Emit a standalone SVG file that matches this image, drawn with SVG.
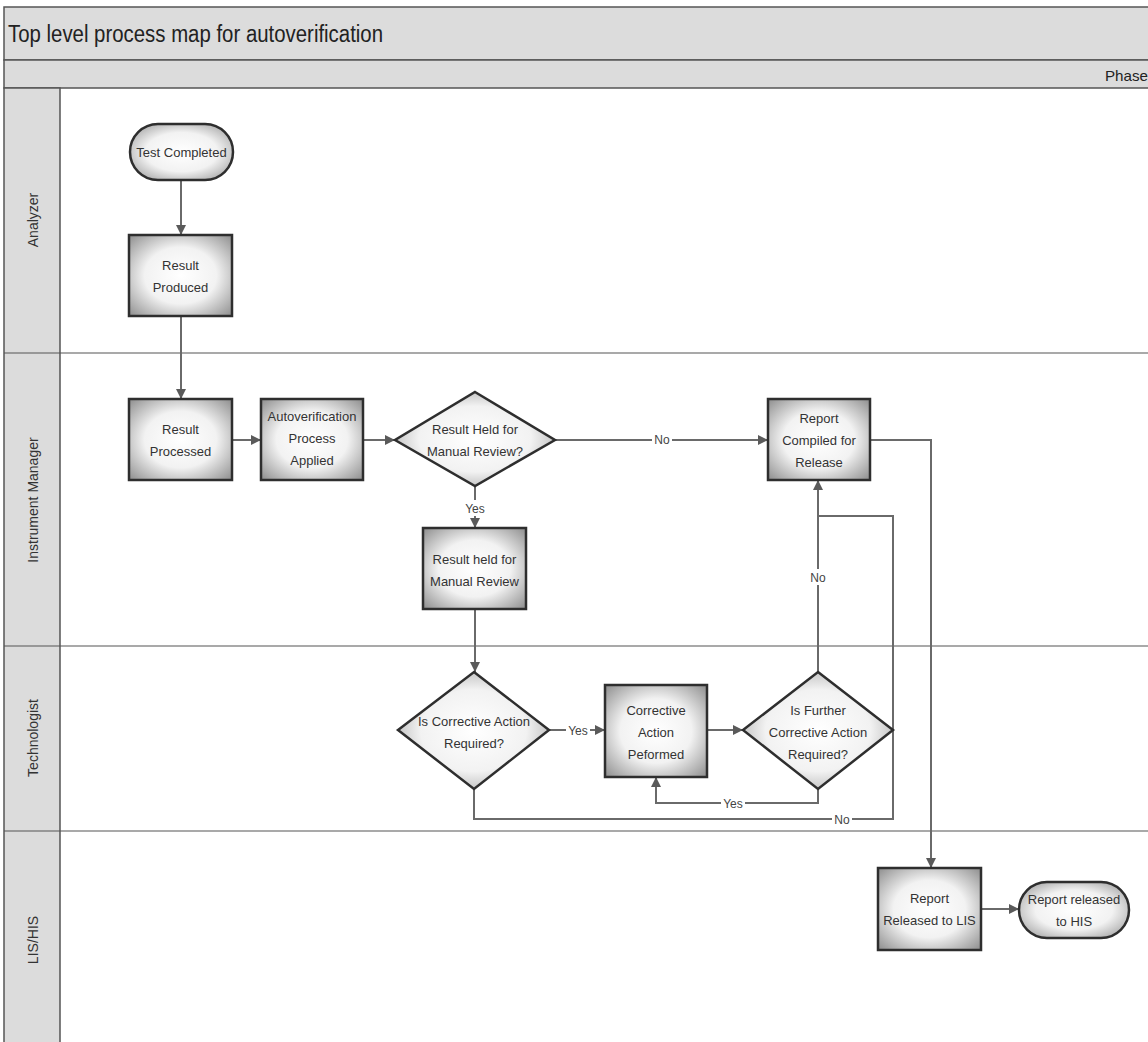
<svg xmlns="http://www.w3.org/2000/svg" width="1148" height="1042" viewBox="0 0 1148 1042">
<style>
.t{font-family:"Liberation Sans",Arial,sans-serif;fill:#333;font-size:13px;text-anchor:middle}
.lane{font-family:"Liberation Sans",Arial,sans-serif;fill:#333;font-size:14px;text-anchor:middle}
.node{fill:url(#g);stroke:#2e2e2e;stroke-width:2.5}
.c{fill:none;stroke:#6a6a6a;stroke-width:2}
.lbl{font-family:"Liberation Sans",Arial,sans-serif;fill:#444;font-size:12px;text-anchor:middle}
.band{fill:#dcdcdc;stroke:#555;stroke-width:1.5}
.sep{stroke:#555;stroke-width:1.2}
</style>
<defs>
<radialGradient id="g" cx="50%" cy="50%" r="70%">
<stop offset="0" stop-color="#ffffff"/>
<stop offset="0.5" stop-color="#f2f2f2"/>
<stop offset="1" stop-color="#8e8e8e"/>
</radialGradient>
<marker id="a" viewBox="0 0 10 10" refX="10" refY="5" markerWidth="5" markerHeight="5" orient="auto" markerUnits="strokeWidth">
<path d="M0,0 L10,5 L0,10 z" fill="#5a5a5a"/>
</marker>
</defs>
<rect width="1148" height="1042" fill="#fff"/>
<g id="frame">
<rect class="band" x="4" y="7" width="1150" height="53"/>
<text x="8" y="42" font-family="Liberation Sans,Arial,sans-serif" font-size="23" fill="#222" textLength="375" lengthAdjust="spacingAndGlyphs">Top level process map for autoverification</text>
<rect class="band" x="4" y="60" width="1150" height="28"/>
<text x="1148" y="81" font-family="Liberation Sans,Arial,sans-serif" font-size="15" fill="#222" text-anchor="end" textLength="43" lengthAdjust="spacingAndGlyphs">Phase</text>
<rect class="band" x="4" y="88" width="56" height="960"/>
<line class="sep" x1="4" y1="353" x2="1148" y2="353"/>
<line class="sep" x1="4" y1="646" x2="1148" y2="646"/>
<line class="sep" x1="4" y1="831" x2="1148" y2="831"/>
<text class="lane" transform="translate(38,220) rotate(-90)">Analyzer</text>
<text class="lane" transform="translate(38,500) rotate(-90)">Instrument Manager</text>
<text class="lane" transform="translate(38,738) rotate(-90)">Technologist</text>
<text class="lane" transform="translate(38,940) rotate(-90)">LIS/HIS</text>
</g>
<g id="connectors">
<path class="c" d="M181,180 V235" marker-end="url(#a)"/>
<path class="c" d="M181,316 V399" marker-end="url(#a)"/>
<path class="c" d="M232,440 H261" marker-end="url(#a)"/>
<path class="c" d="M363,440 H395" marker-end="url(#a)"/>
<path class="c" d="M555,440 H768" marker-end="url(#a)"/>
<rect x="652" y="432" width="20" height="16" fill="#fff"/>
<text class="lbl" x="662" y="444">No</text>
<path class="c" d="M475,478 V528" marker-end="url(#a)"/>
<rect x="463" y="500" width="24" height="16" fill="#fff"/>
<text class="lbl" x="475" y="513">Yes</text>
<path class="c" d="M475,609 V672" marker-end="url(#a)"/>
<path class="c" d="M549,730 H605" marker-end="url(#a)"/>
<rect x="566" y="722" width="24" height="16" fill="#fff"/>
<text class="lbl" x="578" y="735">Yes</text>
<path class="c" d="M707,730 H743" marker-end="url(#a)"/>
<path class="c" d="M818,672 V480" marker-end="url(#a)"/>
<rect x="808" y="569" width="20" height="16" fill="#fff"/>
<text class="lbl" x="818" y="582">No</text>
<path class="c" d="M818,789 V803 H656 V777" marker-end="url(#a)"/>
<rect x="721" y="795" width="24" height="16" fill="#fff"/>
<text class="lbl" x="733" y="808">Yes</text>
<path class="c" d="M474,789 V819 H893 V516 H818"/>
<rect x="832" y="811" width="20" height="16" fill="#fff"/>
<text class="lbl" x="842" y="824">No</text>
<path class="c" d="M870,440 H931 V868" marker-end="url(#a)"/>
<path class="c" d="M981,909 H1019" marker-end="url(#a)"/>
</g>
<g id="n1"><rect class="node" x="130" y="124" width="103" height="56" rx="28"/><text class="t" x="181.5" y="157">Test Completed</text></g>
<g id="n2"><rect class="node" x="129" y="235" width="103" height="81"/><text class="t" x="180.5" y="270">Result</text><text class="t" x="180.5" y="292">Produced</text></g>
<g id="n3"><rect class="node" x="129" y="399" width="103" height="81"/><text class="t" x="180.5" y="434">Result</text><text class="t" x="180.5" y="456">Processed</text></g>
<g id="n4"><rect class="node" x="261" y="399" width="102" height="81"/><text class="t" x="312" y="421">Autoverification</text><text class="t" x="312" y="443">Process</text><text class="t" x="312" y="465">Applied</text></g>
<g id="n5"><polygon class="node" points="475,392 555,440 475,486 395,440"/><text class="t" x="475" y="434">Result Held for</text><text class="t" x="475" y="456">Manual Review?</text></g>
<g id="n6"><rect class="node" x="768" y="399" width="102" height="81"/><text class="t" x="819" y="423">Report</text><text class="t" x="819" y="445">Compiled for</text><text class="t" x="819" y="467">Release</text></g>
<g id="n7"><rect class="node" x="423" y="528" width="103" height="81"/><text class="t" x="474.5" y="564">Result held for</text><text class="t" x="474.5" y="586">Manual Review</text></g>
<g id="n8"><polygon class="node" points="474,672 549,730 474,789 398,730"/><text class="t" x="474" y="726">Is Corrective Action</text><text class="t" x="474" y="748">Required?</text></g>
<g id="n9"><rect class="node" x="605" y="685" width="102" height="92"/><text class="t" x="656" y="715">Corrective</text><text class="t" x="656" y="737">Action</text><text class="t" x="656" y="759">Peformed</text></g>
<g id="n10"><polygon class="node" points="818,672 893,730 818,789 743,730"/><text class="t" x="818" y="715">Is Further</text><text class="t" x="818" y="737">Corrective Action</text><text class="t" x="818" y="759">Required?</text></g>
<g id="n11"><rect class="node" x="878" y="868" width="103" height="82"/><text class="t" x="929.5" y="903">Report</text><text class="t" x="929.5" y="925">Released to LIS</text></g>
<g id="n12"><rect class="node" x="1019" y="882" width="110" height="56" rx="28"/><text class="t" x="1074" y="904">Report  released</text><text class="t" x="1074" y="926">to HIS</text></g>
</svg>
